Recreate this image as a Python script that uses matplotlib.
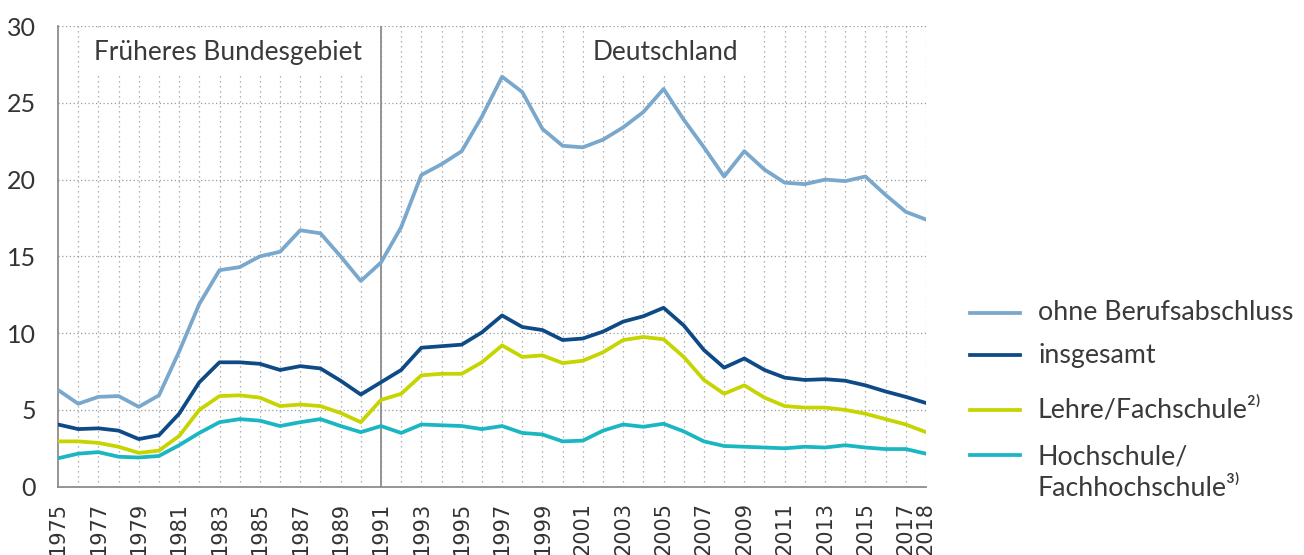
import numpy as np
import matplotlib
matplotlib.use("Agg")
import matplotlib.pyplot as plt
from matplotlib.lines import Line2D

plt.rcParams['font.family'] = ['Lato', 'DejaVu Sans']

years = list(range(1975, 2019))

ohne = [6.3, 5.4, 5.85, 5.9, 5.2, 5.95, 8.8, 11.9, 14.1, 14.3, 15.0, 15.3,
        16.7, 16.5, 15.0, 13.4, 14.6, 16.9, 20.3, 21.0, 21.85, 24.1, 26.7, 25.7,
        23.3, 22.2, 22.1, 22.6, 23.4, 24.4, 25.9, 23.9, 22.1, 20.2, 21.85, 20.65,
        19.8, 19.7, 20.0, 19.9, 20.2, 19.0, 17.9, 17.4]
insgesamt = [4.05, 3.75, 3.8, 3.65, 3.1, 3.35, 4.75, 6.8, 8.1, 8.1, 8.0, 7.6,
             7.85, 7.7, 6.9, 6.0, 6.8, 7.6, 9.05, 9.15, 9.25, 10.05, 11.15, 10.4,
             10.2, 9.55, 9.65, 10.1, 10.75, 11.1, 11.65, 10.5, 8.9, 7.75, 8.35, 7.6,
             7.1, 6.95, 7.0, 6.9, 6.6, 6.2, 5.85, 5.45]
lehre = [2.95, 2.95, 2.85, 2.6, 2.2, 2.35, 3.3, 5.0, 5.9, 5.95, 5.8, 5.25,
         5.35, 5.25, 4.8, 4.2, 5.65, 6.05, 7.25, 7.35, 7.35, 8.1, 9.2, 8.45,
         8.55, 8.05, 8.2, 8.75, 9.55, 9.75, 9.6, 8.45, 6.95, 6.05, 6.6, 5.8,
         5.25, 5.15, 5.15, 5.0, 4.75, 4.4, 4.05, 3.55]
hochschule = [1.85, 2.15, 2.25, 1.95, 1.9, 2.0, 2.7, 3.5, 4.2, 4.4, 4.3, 3.95,
              4.2, 4.4, 3.95, 3.55, 3.95, 3.5, 4.05, 4.0, 3.95, 3.75, 3.95, 3.5,
              3.4, 2.95, 3.0, 3.65, 4.05, 3.9, 4.1, 3.6, 2.95, 2.65, 2.6, 2.55,
              2.5, 2.6, 2.55, 2.7, 2.55, 2.45, 2.45, 2.15]

labels = ["ohne Berufsabschluss", "insgesamt", "Lehre/Fachschule\u00b2\u207e",
          "Hochschule/\nFachhochschule\u00b3\u207e"]
colors = ["#7aa7cc", "#0e4a86", "#c6d400", "#1ab6c2"]
series = [ohne, insgesamt, lehre, hochschule]

xticks = list(range(1975, 2018, 2)) + [2018]
yticks = [0, 5, 10, 15, 20, 25, 30]

fig = plt.figure(figsize=(13.04, 5.55), dpi=100)
ax = fig.add_axes([0.0445, 0.1231, 0.6656, 0.830])

# dotted grid
for yr in years[1:]:
    ax.axvline(yr, color="#9a9a9a", linestyle=(0, (1, 3)), linewidth=0.9, zorder=0)
for yv in yticks[1:]:
    ax.axhline(yv, color="#9a9a9a", linestyle=(0, (1, 2)), linewidth=0.9, zorder=0)

ax.axvline(1991, color="#8c8c8c", linewidth=1.3, zorder=1)

for s, c in zip(series, colors):
    ax.plot(years, s, color=c, linewidth=2.7, zorder=3, solid_joinstyle="round")

ax.set_xlim(1975, 2018)
ax.set_ylim(0, 30)
ax.set_xticks(xticks)
ax.set_xticklabels([str(x) for x in xticks], rotation=90, fontsize=15,
                   family="DejaVu Sans", color="#333333")
ax.set_yticks(yticks)
ax.set_yticklabels([str(y) for y in yticks], fontsize=18, color="#333333")
ax.tick_params(axis="both", length=0)
ax.tick_params(axis="x", pad=11)
ax.tick_params(axis="y", pad=16)

for side in ["top", "right"]:
    ax.spines[side].set_visible(False)
for side in ["left", "bottom"]:
    ax.spines[side].set_color("#8c8c8c")
    ax.spines[side].set_linewidth(1.3)

ax.text(1983.4, 28.3, "Früheres Bundesgebiet", ha="center", va="center",
        fontsize=18.9, color="#3a3a3a", zorder=2,
        bbox=dict(facecolor="white", edgecolor="none", pad=6))
ax.text(2005.1, 28.3, "Deutschland", ha="center", va="center",
        fontsize=18.9, color="#3a3a3a", zorder=2,
        bbox=dict(facecolor="white", edgecolor="none", pad=6))

# legend drawn by hand
leg_y = [313, 355, 410, 473]
for lab, c, py in zip(labels, colors, leg_y):
    yf = 1 - py / 555
    ly = yf if "\n" not in lab else 1 - 455 / 555
    fig.add_artist(Line2D([970 / 1304, 1020 / 1304], [ly, ly], color=c,
                          linewidth=2.7, transform=fig.transFigure))
    fig.text(1038 / 1304, yf, lab, ha="left", va="center", fontsize=19.3,
             color="#3a3a3a", linespacing=1.3)

fig.savefig("out.png", dpi=100)
